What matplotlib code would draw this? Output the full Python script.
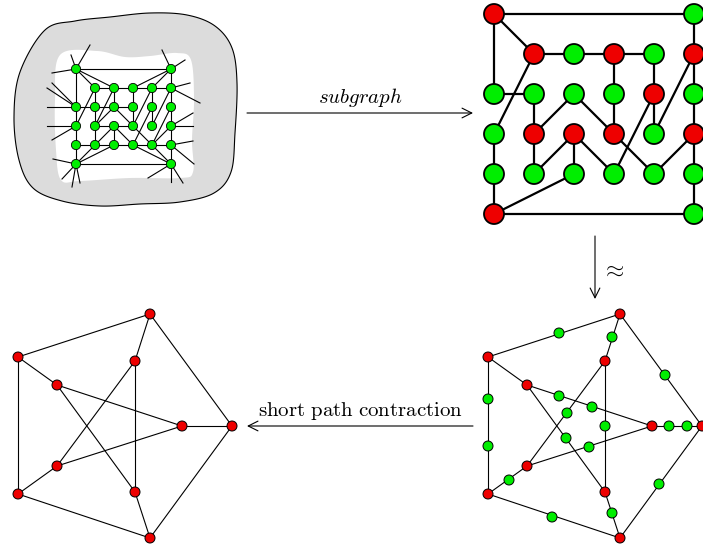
import numpy as np
import matplotlib.pyplot as plt
from matplotlib.patches import Circle, Polygon

plt.rcParams['mathtext.fontset'] = 'cm'

GREEN = '#00ee00'
RED = '#ee0000'

# ---- grid graph (top row), nodes as (col, row) ----
grid_green = [(5, 0), (2, 1), (4, 1), (0, 2), (1, 2), (2, 2), (3, 2), (5, 2),
              (0, 3), (4, 3), (0, 4), (1, 4), (2, 4), (3, 4), (4, 4), (5, 4), (5, 5)]
grid_red = [(0, 0), (1, 1), (3, 1), (5, 1), (4, 2), (1, 3), (2, 3), (3, 3), (5, 3), (0, 5)]

sub_edges = [((0, 0), (5, 0)), ((0, 0), (0, 2)), ((0, 0), (1, 1)),
             ((1, 1), (2, 1)), ((2, 1), (3, 1)), ((3, 1), (4, 1)),
             ((1, 1), (0, 3)), ((0, 2), (1, 2)),
             ((1, 2), (1, 3)), ((1, 3), (1, 4)),
             ((1, 3), (2, 2)), ((2, 2), (3, 3)),
             ((3, 1), (3, 2)), ((3, 2), (3, 3)),
             ((4, 1), (4, 2)), ((4, 2), (4, 3)),
             ((5, 1), (4, 3)), ((4, 2), (3, 4)),
             ((2, 3), (1, 4)), ((2, 3), (2, 4)), ((2, 3), (3, 4)),
             ((3, 3), (4, 4)), ((4, 4), (5, 3)),
             ((2, 4), (0, 5)), ((0, 3), (0, 4)), ((0, 4), (0, 5)),
             ((0, 5), (5, 5)),
             ((5, 0), (5, 1)), ((5, 1), (5, 2)), ((5, 2), (5, 3)),
             ((5, 3), (5, 4)), ((5, 4), (5, 5))]

# extra edges only in the big graph (top left)
big_extra = [((0, 0), (2, 1)), ((5, 0), (3, 1)), ((5, 0), (4, 1)), ((4, 1), (5, 1)),
             ((0, 2), (0, 3)), ((1, 2), (2, 2)), ((2, 2), (3, 2)),
             ((1, 3), (2, 3)), ((2, 3), (3, 3)), ((1, 1), (1, 2)), ((2, 1), (2, 2)),
             ((0, 4), (1, 4)), ((1, 4), (2, 4)), ((2, 4), (3, 4)), ((3, 4), (4, 4)),
             ((4, 4), (5, 4)), ((0, 5), (1, 4)), ((5, 5), (3, 4)), ((5, 5), (4, 4)),
             ((2, 1), (1, 3)), ((4, 1), (3, 3)), ((5, 2), (4, 4))]

# dangling edges of the big graph: node -> loose end (pixels)
big_stubs = [((0, 0), (71, 55)), ((0, 0), (90, 45)), ((0, 0), (52, 73)),
             ((0, 2), (47, 107)), ((0, 2), (52, 83)), ((0, 2), (47, 88)),
             ((0, 3), (47, 126)), ((0, 3), (52, 140)),
             ((0, 5), (53, 159)), ((0, 5), (62, 179)), ((0, 5), (72, 187)), ((0, 5), (80, 183)),
             ((5, 0), (162, 50)), ((5, 0), (185, 60)),
             ((5, 1), (190, 83)), ((5, 1), (200, 103)),
             ((5, 3), (193, 113)), ((5, 3), (193, 126)),
             ((5, 4), (193, 141)), ((5, 4), (194, 164)),
             ((5, 5), (148, 178)), ((5, 5), (171, 182)), ((5, 5), (183, 183))]

big_cols = [76, 95, 114, 133, 152, 171]
big_rows = [69, 88, 107, 126, 145, 164]
sub_cols = [494, 534, 574, 614, 654, 694]
sub_rows = [14, 54, 94, 134, 174, 214]

blob_outline = [(45, 30), (75, 21), (110, 17), (150, 13), (187, 15), (215, 26), (232, 48),
                (237, 83), (235, 133), (231, 172), (214, 193), (180, 202), (140, 204),
                (100, 206), (62, 201), (33, 188), (19, 160), (14, 117), (20, 72)]
hole_outline = [(60, 55), (97, 51), (125, 57), (150, 56), (177, 53), (191, 60), (194, 100),
                (192, 140), (193, 172), (180, 178), (130, 178), (80, 181), (61, 180),
                (56, 150), (55, 100)]

# ---- Petersen graph (bottom row) ----
pet_outer = [(232, 426), (150, 314), (18, 357), (18, 494), (150, 538)]
pet_inner = [(182, 426), (135, 361), (57, 385), (57, 466), (135, 492)]
# subdivision vertices, grouped by the edge they sit on (pixels, right copy)
sub_pts = {
    ('o', 1, 2): [(559, 333)],
    ('o', 2, 3): [(488, 399), (488, 446)],
    ('o', 3, 4): [(552, 517)],
    ('o', 4, 0): [(659, 484)],
    ('o', 0, 1): [(665, 375)],
    ('s', 1): [(612, 337)],
    ('s', 0): [(669, 426), (687, 426)],
    ('s', 4): [(612, 513)],
    ('s', 3): [(509, 480)],
    ('i', 2, 0): [(559, 396), (592, 407)],
    ('i', 3, 0): [(589, 447)],
    ('i', 1, 3): [(567, 413)],
    ('i', 2, 4): [(566, 438)],
    ('i', 1, 4): [(605, 426)],
}
right_shift = 470


def smooth_closed(pts, n=30):
    p = np.array(pts, dtype=float)
    out = []
    k = len(p)
    for i in range(k):
        p0, p1, p2, p3 = p[i - 1], p[i], p[(i + 1) % k], p[(i + 2) % k]
        for t in np.linspace(0, 1, n, endpoint=False):
            out.append(0.5 * ((2 * p1) + (-p0 + p2) * t
                              + (2 * p0 - 5 * p1 + 4 * p2 - p3) * t ** 2
                              + (-p0 + 3 * p1 - 3 * p2 + p3) * t ** 3))
    return np.array(out)


def node(ax, x, y, r, color, lw):
    ax.add_patch(Circle((x, y), r, facecolor=color, edgecolor='black', lw=lw, zorder=5))


fig = plt.figure(figsize=(7.03, 5.46), dpi=100)
ax = fig.add_axes([0, 0, 1, 1])
ax.set_xlim(0, 703)
ax.set_ylim(546, 0)
ax.axis('off')

# top left: big graph inside a blob
ax.add_patch(Polygon(smooth_closed(blob_outline), closed=True, facecolor='#dcdcdc',
                     edgecolor='black', lw=0.8, zorder=1))
ax.add_patch(Polygon(smooth_closed(hole_outline), closed=True, facecolor='white',
                     edgecolor='none', zorder=2))


def bpos(v):
    return big_cols[v[0]], big_rows[v[1]]


for a, b in sub_edges + big_extra:
    (x1, y1), (x2, y2) = bpos(a), bpos(b)
    ax.plot([x1, x2], [y1, y2], color='black', lw=0.8, zorder=3)
for a, end in big_stubs:
    x1, y1 = bpos(a)
    ax.plot([x1, end[0]], [y1, end[1]], color='black', lw=0.8, zorder=3)
for v in grid_green + grid_red:
    node(ax, *bpos(v), 4.6, GREEN, 0.6)


# top right: the subgraph
def spos(v):
    return sub_cols[v[0]], sub_rows[v[1]]


for a, b in sub_edges:
    (x1, y1), (x2, y2) = spos(a), spos(b)
    ax.plot([x1, x2], [y1, y2], color='black', lw=1.6, zorder=3)
for v in grid_green:
    node(ax, *spos(v), 10, GREEN, 1.3)
for v in grid_red:
    node(ax, *spos(v), 10, RED, 1.3)

# bottom: Petersen graph (left) and its subdivision (right)
pet_edges = ([('o', i, (i + 1) % 5) for i in range(5)] + [('s', i) for i in range(5)]
             + [('i', i, (i + 2) % 5) for i in range(5)])


def pet_ends(e):
    if e[0] == 'o':
        return pet_outer[e[1]], pet_outer[e[2]]
    if e[0] == 's':
        return pet_outer[e[1]], pet_inner[e[1]]
    return pet_inner[e[1]], pet_inner[e[2]]


for shift in (0, right_shift):
    for e in pet_edges:
        (x1, y1), (x2, y2) = pet_ends(e)
        ax.plot([x1 + shift, x2 + shift], [y1, y2], color='black', lw=0.8, zorder=3)
    for x, y in pet_outer + pet_inner:
        node(ax, x + shift, y, 5, RED, 0.7)
for key, pts in sub_pts.items():
    for x, y in pts:
        node(ax, x, y, 5, GREEN, 0.7)

# arrows and labels
arrow = dict(arrowstyle='->,head_length=0.7,head_width=0.35', lw=0.8, color='black',
             shrinkA=0, shrinkB=0)
ax.annotate('', xy=(473, 113), xytext=(247, 113), arrowprops=arrow)
ax.text(360, 103, r'$subgraph$', ha='center', va='baseline', fontsize=15)
ax.annotate('', xy=(247, 426), xytext=(473, 426), arrowprops=arrow)
ax.text(360, 416, r'$\mathrm{short\ path\ contraction}$', ha='center', va='baseline',
        fontsize=15)
ax.annotate('', xy=(595, 299), xytext=(595, 236), arrowprops=arrow)
ax.text(613, 270, r'$\approx$', ha='center', va='center', fontsize=17)

fig.savefig('out.png', dpi=100)
